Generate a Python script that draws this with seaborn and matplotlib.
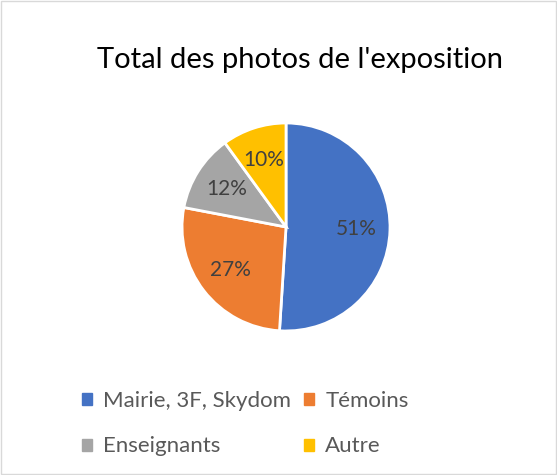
import matplotlib
matplotlib.use('Agg')
import matplotlib.pyplot as plt
import matplotlib.patches as mpatches
import seaborn as sns

# data
categories = ['Mairie, 3F, Skydom', 'Témoins', 'Enseignants', 'Autre']
shares = [51, 27, 12, 10]
colors = ['#4472C4', '#ED7D31', '#A5A5A5', '#FFC000']

sns.set_theme(style='white')
plt.rcParams['font.family'] = ['Lato', 'DejaVu Sans']
palette = sns.color_palette(colors)

fig = plt.figure(figsize=(5.57, 4.75), dpi=100)
fig.patch.set_facecolor('white')

# light grey chart border like Excel
fig.add_artist(mpatches.Rectangle((0.002, 0.002), 0.996, 0.996, transform=fig.transFigure,
                                  fill=False, edgecolor='#D9D9D9', lw=1))

fig.text(0.539, 0.873, "Total des photos de l'exposition", ha='center', va='center',
         fontsize=21, color='black')

ax = fig.add_axes([0.3268, 0.3032, 0.3734, 0.4379])
wedges, texts, autotexts = ax.pie(shares, colors=palette, startangle=90, counterclock=False,
                                  autopct='%1.0f%%', pctdistance=0.68, radius=1,
                                  wedgeprops={'edgecolor': 'white', 'linewidth': 2},
                                  textprops={'fontsize': 15, 'color': '#404040'})
ax.set_xlim(-1, 1)
ax.set_ylim(-1, 1)
ax.set_aspect('equal')

# legend filled row by row like Excel
order = [0, 2, 1, 3]
handles = [mpatches.Patch(color=palette[i]) for i in order]
labels = [categories[i] for i in order]
fig.legend(handles, labels, loc='center', bbox_to_anchor=(0.44, 0.108), ncol=2,
           frameon=False, fontsize=16, labelcolor='#595959', handlelength=0.45,
           handleheight=0.45, handletextpad=0.5, columnspacing=0.6, labelspacing=1.15)

fig.savefig('out.png', dpi=100)
